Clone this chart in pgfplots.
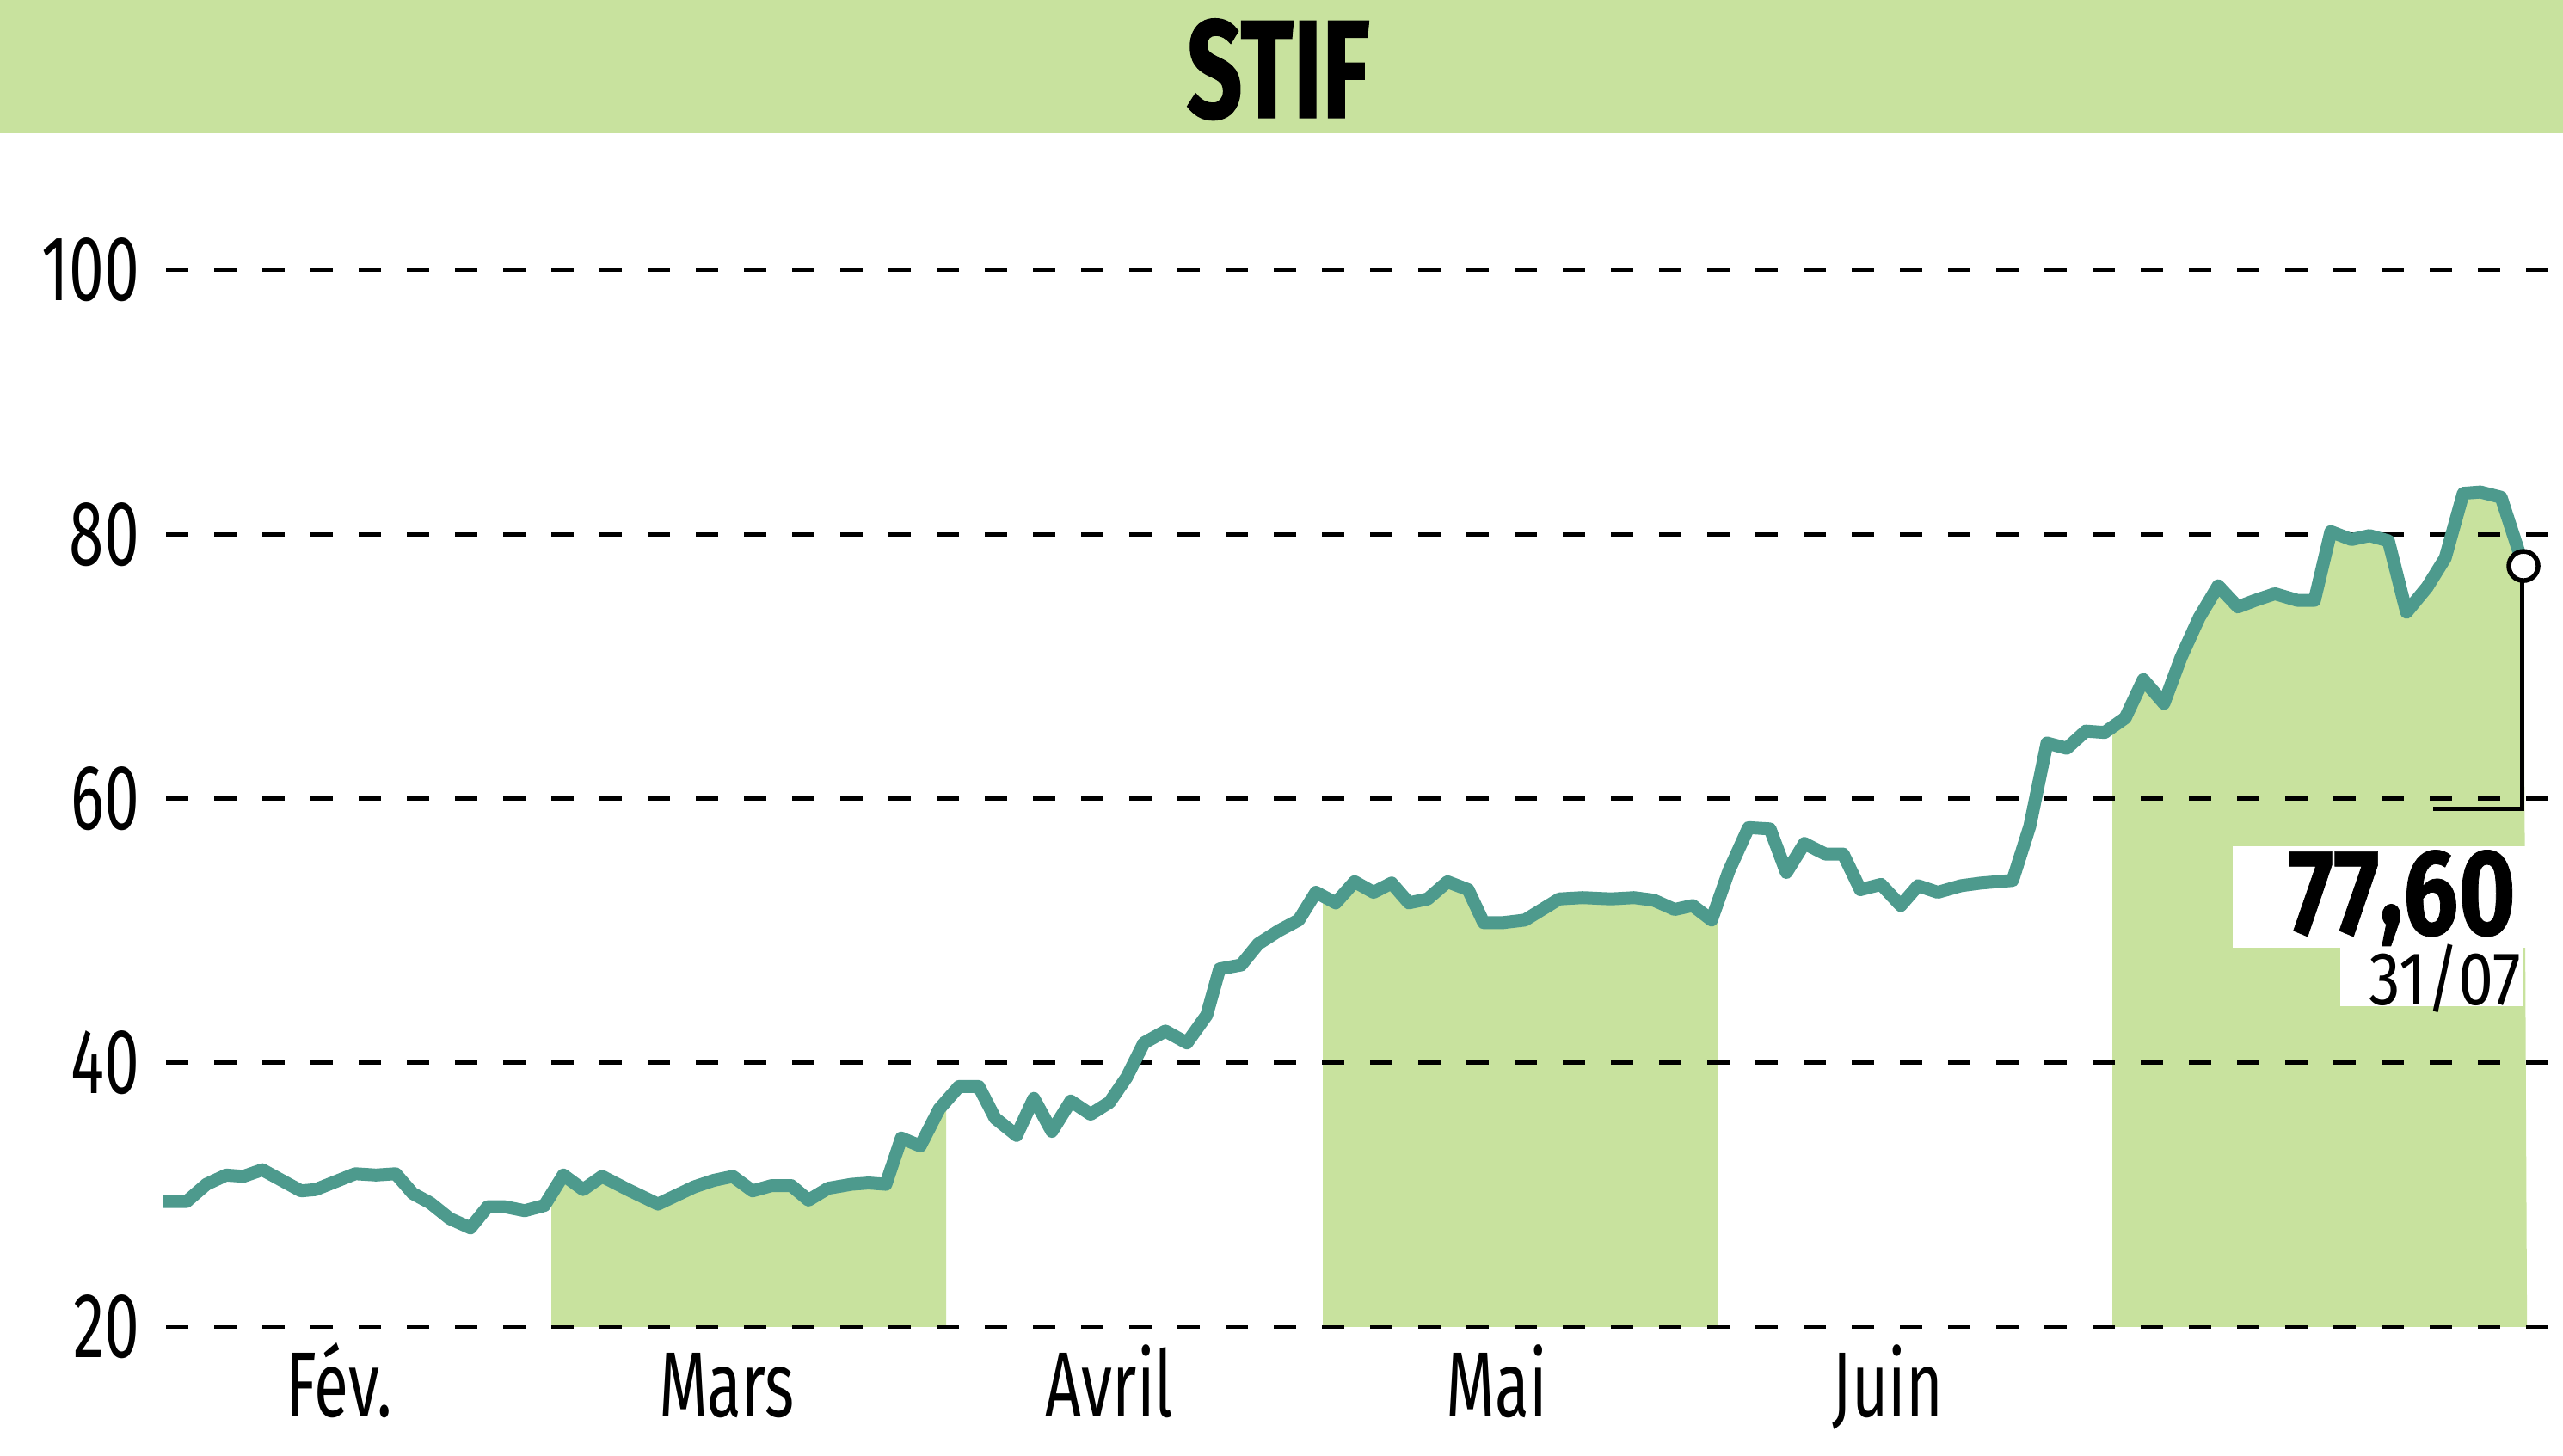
\documentclass[border=0pt]{standalone}
\usepackage{pgfplots}
\pgfplotsset{compat=1.18}
\usepgfplotslibrary{fillbetween}
\usepackage{pgfplotstable}
\usepackage{fontspec}
\setmainfont{Fira Sans}
\newfontfamily\labelfont[FakeStretch=0.68]{Fira Sans}
\newfontfamily\titlefont[FakeStretch=0.70, FakeBold=0.8, UprightFont=* Bold]{Fira Sans}
\newfontfamily\valfont[FakeStretch=0.80, FakeBold=0.5, UprightFont=* Bold]{Fira Sans}
\newfontfamily\datefont[FakeStretch=0.84]{Fira Sans}
\definecolor{bandgreen}{RGB}{200,226,158}
\definecolor{linecol}{RGB}{77,154,141}

\pgfplotstableread{
x y
190 29.5
217 29.5
240 30.8
263 31.5
283 31.4
305 31.9
350 30.3
367 30.4
413 31.6
437 31.5
460 31.6
480 30.1
500 29.4
523 28.2
547 27.5
567 29.1
587 29.1
610 28.8
633 29.2
655 31.5
678 30.4
700 31.4
730 30.4
765 29.3
807 30.6
830 31.1
852 31.4
875 30.3
897 30.7
920 30.7
940 29.6
963 30.5
990 30.8
1010 30.9
1030 30.8
1048 34.3
1070 33.7
1092 36.5
1115 38.2
1138 38.2
1157 35.8
1182 34.5
1202 37.3
1223 34.8
1245 37.1
1268 36.1
1290 37.0
1310 38.9
1330 41.5
1355 42.4
1380 41.5
1403 43.6
1418 47.1
1443 47.4
1463 49.0
1487 50.0
1510 50.8
1530 52.9
1553 52.1
1575 53.7
1597 52.9
1618 53.6
1638 52.1
1660 52.4
1683 53.7
1707 53.1
1725 50.6
1747 50.6
1773 50.8
1813 52.4
1840 52.5
1873 52.4
1900 52.5
1923 52.3
1947 51.6
1968 51.9
1990 50.8
2010 54.5
2033 57.8
2058 57.7
2077 54.4
2098 56.6
2122 55.8
2143 55.8
2163 53.1
2187 53.5
2210 51.9
2230 53.4
2253 52.9
2280 53.4
2303 53.6
2340 53.8
2360 57.9
2380 64.2
2403 63.8
2425 65.1
2447 65.0
2471 66.1
2492 69.0
2516 67.2
2536 70.7
2557 73.7
2579 76.1
2602 74.5
2622 75.0
2645 75.5
2671 75.0
2691 75.0
2710 80.2
2734 79.6
2755 79.9
2777 79.5
2798 74.1
2822 76.0
2843 78.2
2864 83.1
2884 83.2
2908 82.8
2934 77.6
}\pricedata

\begin{document}
\begin{tikzpicture}
\fill[bandgreen] (0,307.6pt) rectangle (596pt,338.6pt);
\node[anchor=base, inner sep=0pt] at (297.2pt,311.2pt) {\titlefont\fontsize{32.5}{32.5}\selectfont STIF};
\begin{axis}[
  at={(37pt,30pt)}, anchor=south west,
  width=559pt, height=245.8pt, scale only axis,
  xmin=185, xmax=2980, ymin=20, ymax=100,
  clip=false, set layers,
  axis line style={draw=none}, major tick length=0pt,
  xtick={394,845,1290,1740,2195},
  xticklabels={Fév.,Mars,Avril,Mai,Juin},
  ytick={20,40,60,80,100},
  yticklabels={20,40,60,80,100},
  xticklabel style={anchor=base, inner sep=0pt, yshift=-21pt, font=\labelfont\fontsize{21.5}{21.5}\selectfont},
  yticklabel style={anchor=east, inner sep=0pt, xshift=-4.4pt, font=\labelfont\fontsize{21.5}{21.5}\selectfont},
]
\pgfplotsinvokeforeach{20,40,60,80,100}{
  \addplot[black, line width=0.9pt, dash pattern=on 5.2pt off 6pt] coordinates {(193,#1) (2980,#1)};
}
\addplot[linecol, line width=3pt, line join=round, name path=price] table {\pricedata};
\addplot[draw=none, name path=base] coordinates {(185,20) (2980,20)};
\addplot[bandgreen] fill between[of=price and base, soft clip={domain=641:1100}];
\addplot[bandgreen] fill between[of=price and base, soft clip={domain=1538:1997}];
\addplot[bandgreen] fill between[of=price and base, soft clip={domain=2456:2938}];
\fill[white] (axis cs:2596,48.7) rectangle (axis cs:2937,56.4);
\fill[white] (axis cs:2721,44.3) rectangle (axis cs:2934,48.75);
\node[anchor=base east, inner sep=0pt, text depth=0pt] at (axis cs:2926,49.7) {\valfont\fontsize{28.5}{28.5}\selectfont 77\raisebox{2.4pt}{,}60};
\node[anchor=base east, inner sep=0pt] at (axis cs:2932,44.4) {\datefont\fontsize{17.5}{17.5}\selectfont 31/07};
\addplot[black, line width=1pt] coordinates {(2932,77.6) (2932,59.2) (2829,59.2)};
\addplot[only marks, mark=*, mark size=3.4pt, mark options={fill=white, draw=black, line width=1.1pt}] coordinates {(2934,77.6)};
\end{axis}
\pgfresetboundingbox
\path[use as bounding box] (0,0) rectangle (596pt,338.6pt);
\end{tikzpicture}
\end{document}
